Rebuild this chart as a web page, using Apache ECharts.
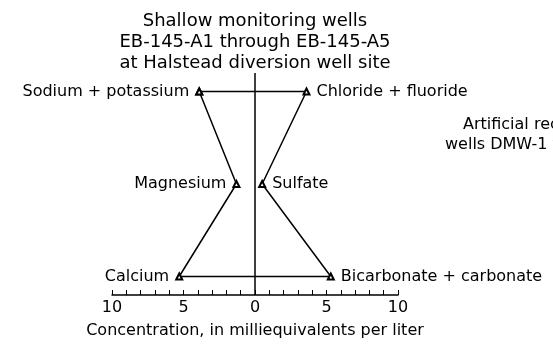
<!DOCTYPE html>
<html>
<head>
<meta charset="utf-8">
<script src="https://cdn.jsdelivr.net/npm/echarts@6/dist/echarts.min.js"></script>
<style>
  html, body { margin: 0; padding: 0; background: #fff; }
  #chart { width: 553px; height: 345px; }
</style>
</head>
<body>
<div id="chart"></div>
<script>
// cations on the left, anions on the right (meq/L), rows from bottom to top
const cations = ["Calcium", "Magnesium", "Sodium + potassium"]
const cationValues = [5.3, 1.3, 3.9]
const anions = ["Bicarbonate + carbonate", "Sulfate", "Chloride + fluoride"]
const anionValues = [5.3, 0.5, 3.6]
const rows = [0, 1, 2]
const tickLabels = ["10", "5", "0", "5", "10"]

const font = "DejaVu Sans"
const chart = echarts.init(document.getElementById("chart"))

// polygon: left side top -> bottom, then right side bottom -> top, closed
const poly = []
for (let i = rows.length - 1; i >= 0; i--) {
  poly.push({ value: [-cationValues[i], rows[i]], label: { show: true, position: "left", formatter: cations[i] } })
}
for (let i = 0; i < rows.length; i++) {
  poly.push({ value: [anionValues[i], rows[i]], label: { show: true, position: "right", formatter: anions[i] } })
}
poly.push({ value: [-cationValues[2], rows[2]] })

const option = {
  animation: false,
  backgroundColor: "#fff",
  textStyle: { fontFamily: font },
  graphic: [
    {
      type: "text",
      x: 255,
      y: 11,
      style: {
        text: "Shallow monitoring wells\nEB-145-A1 through EB-145-A5\nat Halstead diversion well site",
        textAlign: "center",
        font: "18px " + font,
        lineHeight: 21,
        fill: "#000"
      }
    },
    {
      type: "text",
      x: 463,
      y: 117,
      style: { text: "Artificial recharge", font: "16px " + font, fill: "#000" }
    },
    {
      type: "text",
      x: 445,
      y: 137,
      style: { text: "wells DMW-1 through", font: "16px " + font, fill: "#000" }
    }
  ],
  grid: { left: 112, right: 155, top: 73, bottom: 50 },
  xAxis: {
    type: "value",
    min: -10,
    max: 10,
    interval: 1,
    name: "Concentration, in milliequivalents per liter",
    nameLocation: "middle",
    nameGap: 28,
    nameTextStyle: { color: "#000", fontSize: 16, fontFamily: font },
    axisLine: { show: true, onZero: false, lineStyle: { color: "#000", width: 1.5 } },
    axisTick: { show: true, inside: true, length: 5, lineStyle: { color: "#000" } },
    axisLabel: {
      color: "#000",
      fontSize: 16,
      margin: 5,
      formatter: function (v) {
        if (v % 5 !== 0) return ""
        return tickLabels[(v + 10) / 5]
      }
    },
    splitLine: { show: false }
  },
  yAxis: {
    type: "value",
    min: -0.2,
    max: 2.2,
    show: false
  },
  series: [
    {
      type: "line",
      data: [[0, -0.2], [0, 2.2]],
      symbol: "none",
      lineStyle: { color: "#000", width: 1.5 },
      silent: true
    },
    {
      type: "line",
      data: poly,
      symbol: "emptyTriangle",
      symbolSize: 6,
      itemStyle: { color: "#000", borderColor: "#000" },
      lineStyle: { color: "#000", width: 1.5 },
      label: { color: "#000", fontSize: 16, fontFamily: font, distance: 6 }
    }
  ]
}
chart.setOption(option)
</script>
</body>
</html>
